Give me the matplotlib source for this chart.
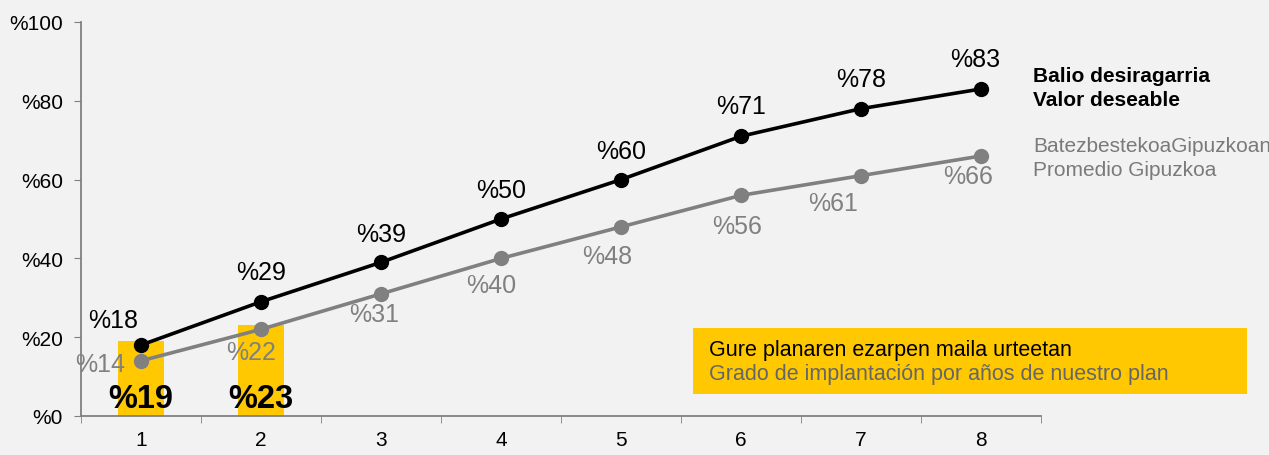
import numpy as np
import matplotlib.pyplot as plt

plt.rcParams['font.family'] = ['Liberation Sans', 'DejaVu Sans']

years = [1, 2, 3, 4, 5, 6, 7, 8]
desired = [18, 29, 39, 50, 60, 71, 78, 83]
average = [14, 22, 31, 40, 48, 56, 61, 66]
plan_years = [1, 2]
plan = [19, 23]

yellow = '#ffc800'
grey = '#808080'
bg = '#f2f2f2'

# label offsets in pixels (dx, dy)
desired_off = [(-28, 25), (0, 30), (0, 28), (0, 29), (0, 29), (0, 30), (0, 30), (-6, 30)]
average_off = [(-41, -3), (-10, -23), (-7, -20), (-10, -27), (-14, -29), (-4, -31), (-28, -27), (-13, -20)]

fig = plt.figure(figsize=(12.69, 4.56), dpi=100, facecolor=bg)
ax = fig.add_axes([81/1269, 39/456, 960/1269, 394/456], facecolor=bg)

ax.bar(plan_years, plan, width=0.39, color=yellow, zorder=1)
for x, v in zip(plan_years, plan):
    ax.text(x, 4.5, '%' + str(v), ha='center', va='center', fontsize=23.5,
            fontweight='bold', color='black', zorder=5)

ax.plot(years, average, color=grey, lw=2.6, marker='o', ms=10, zorder=3)
ax.plot(years, desired, color='black', lw=2.6, marker='o', ms=10, zorder=4)

for x, v, off in zip(years, desired, desired_off):
    ax.annotate('%' + str(v), (x, v), xytext=off, textcoords='offset pixels',
                ha='center', va='center', fontsize=18, color='black')
for x, v, off in zip(years, average, average_off):
    ax.annotate('%' + str(v), (x, v), xytext=off, textcoords='offset pixels',
                ha='center', va='center', fontsize=18, color=grey)

ax.set_xlim(0.5, 8.5)
ax.set_ylim(0, 100)
ax.set_yticks(range(0, 101, 20))
ax.set_yticklabels(['%' + str(t) for t in range(0, 101, 20)], fontsize=15)
ax.set_xticks(years)
ax.set_xticklabels([str(y) for y in years], fontsize=15)
ax.set_xticks(np.arange(0.5, 9, 1), minor=True)
ax.tick_params(axis='x', which='major', length=0, pad=10)
ax.tick_params(axis='x', which='minor', length=5, color=grey, direction='out')
ax.tick_params(axis='y', length=5, color=grey, direction='out', pad=8)
for s in ['top', 'right']:
    ax.spines[s].set_visible(False)
for s in ['left', 'bottom']:
    ax.spines[s].set_color(grey)
    ax.spines[s].set_linewidth(1.3)

# legend texts
fig.text(1033/1269, 1 - 77/456, 'Balio desiragarria', fontsize=15, fontweight='bold',
         va='center', ha='left')
fig.text(1033/1269, 1 - 101/456, 'Valor deseable', fontsize=15, fontweight='bold',
         va='center', ha='left')
fig.text(1033/1269, 1 - 147/456, 'BatezbestekoaGipuzkoan', fontsize=15, color='#7a7a7a',
         va='center', ha='left')
fig.text(1033/1269, 1 - 171/456, 'Promedio Gipuzkoa', fontsize=15, color='#7a7a7a',
         va='center', ha='left')

# yellow box
box = plt.Rectangle((693/1269, 1 - 395/456), 554/1269, 66/456, transform=fig.transFigure,
                    facecolor=yellow, edgecolor='none')
fig.patches.append(box)
fig.text(709/1269, 1 - 351/456, 'Gure planaren ezarpen maila urteetan', fontsize=15.5,
         color='black', va='center', ha='left')
fig.text(709/1269, 1 - 375/456, 'Grado de implantación por años de nuestro plan',
         fontsize=15.5, color='#666666', va='center', ha='left')

fig.savefig('out.png', dpi=100, facecolor=bg)
